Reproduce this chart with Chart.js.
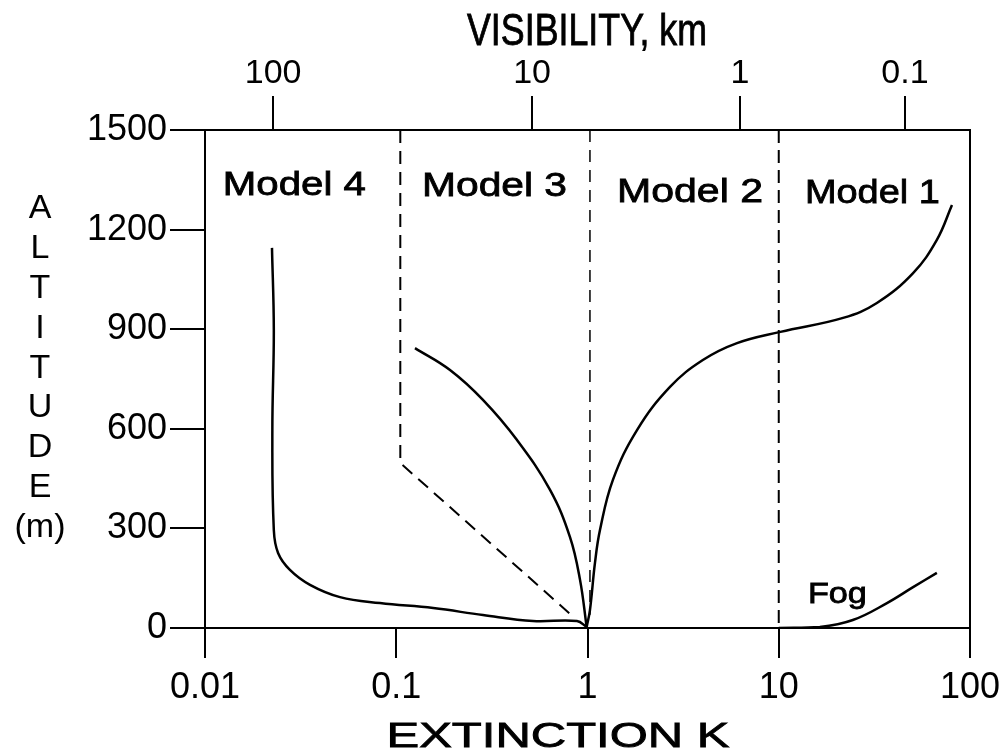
<!DOCTYPE html>
<html>
<head>
<meta charset="utf-8">
<title>Visibility models</title>
<script src="https://cdn.jsdelivr.net/npm/chart.js@4.4.1/dist/chart.umd.min.js"></script>
<style>
  body { margin: 0; background: #fff; }
  canvas { display: block; }
</style>
</head>
<body>
<canvas id="chart" width="1004" height="753"></canvas>
<script>
// axis ticks
const kTicks = [0.01, 0.1, 1, 10, 100];
const kTickLabels = ["0.01", "0.1", "1", "10", "100"];
const visTickK = [0.0227, 0.513, 6.27, 45.7];       // where the visibility marks sit on the K axis
const visTickLabels = ["100", "10", "1", "0.1"];
const altTicks = [0, 300, 600, 900, 1200, 1500];

// curves (K, altitude m)
const model4K   = [0.0224, 0.0229, 0.0225, 0.0229, 0.0241, 0.0278, 0.0354, 0.0508, 0.0822, 0.156, 0.284, 0.519, 0.881, 0.99];
const model4Alt = [1145, 898, 596, 295, 226, 175, 130, 93, 75, 60, 39, 21, 21, 3];

const model3K   = [0.1253, 0.191, 0.284, 0.428, 0.637, 0.810, 0.914, 0.99];
const model3Alt = [843, 777, 687, 566, 416, 274, 145, 3];

const model3LimK   = [0.105, 0.105, 0.82];
const model3LimAlt = [1500, 497, 40];

const model2K   = [0.99, 1.03, 1.094, 1.162, 1.358, 1.815, 2.70, 4.01, 6.05, 10.2, 21.7, 32.6, 50.4, 67.1, 80.5];
const model2Alt = [3, 54, 196, 295, 446, 596, 726, 807, 858, 892, 934, 979, 1069, 1169, 1274];

const fogK   = [10, 16.4, 24.4, 36.8, 50.4, 67.1];
const fogAlt = [0, 3, 24, 75, 123, 166];

const bound23K = [1.03, 1.03];
const bound23Alt = [1500, 40];
const bound12K = [10, 10];
const bound12Alt = [1500, 0];

// text labels inside the plot (K, altitude)
const modelNames = ["Model 4", "Model 3", "Model 2", "Model 1", "Fog"];
const modelNameK = [0.0124, 0.1364, 1.426, 13.7, 14.2];
const modelNameAlt = [1304, 1301, 1283, 1280, 75];

const altLetters = ["A", "L", "T", "I", "T", "U", "D", "E", "(m)"];

const FONT = '"Liberation Sans", Arial, Helvetica, sans-serif';

function pts(xs, ys) {
    return xs.map((x, i) => ({ x: x, y: ys[i] }));
}

function curve(xs, ys, extra) {
    return Object.assign({
        data: pts(xs, ys),
        showLine: true,
        borderColor: "#000",
        borderWidth: 2.5,
        pointRadius: 0,
        tension: 0.4,
        fill: false
    }, extra || {});
}

// draw text squeezed/stretched to a given width (the scan is not evenly scaled)
function fitText(ctx, str, x, y, size, width, align) {
    ctx.save();
    ctx.font = size + "px " + FONT;
    const w = ctx.measureText(str).width;
    ctx.translate(x, y);
    ctx.scale(width / w, 1);
    ctx.textAlign = align || "left";
    ctx.textBaseline = "alphabetic";
    ctx.fillStyle = "#000";
    ctx.strokeStyle = "#000";
    ctx.lineWidth = 0.8;
    ctx.fillText(str, 0, 0);
    ctx.strokeText(str, 0, 0);
    ctx.restore();
}

const labelWidths = [143, 145, 146, 135, 59];

const textPlugin = {
    id: "texts",
    beforeDraw(chart) {
        const ctx = chart.ctx;
        ctx.save();
        ctx.fillStyle = "#fff";
        ctx.fillRect(0, 0, chart.width, chart.height);
        ctx.restore();
    },
    afterDraw(chart) {
        const ctx = chart.ctx;
        const xs = chart.scales.x, ys = chart.scales.y;
        modelNames.forEach((name, i) => {
            const px = xs.getPixelForValue(modelNameK[i]);
            const py = ys.getPixelForValue(modelNameAlt[i]);
            fitText(ctx, name, px, py, i === 4 ? 29 : 33, labelWidths[i], "left");
        });
        // axis titles
        fitText(ctx, "VISIBILITY, km", 587, 45, 44, 240, "center");
        fitText(ctx, "EXTINCTION K", 558, 747, 35, 343, "center");
        ctx.save();
        ctx.font = "34px " + FONT;
        ctx.fillStyle = "#000";
        ctx.textAlign = "center";
        ctx.textBaseline = "middle";
        altLetters.forEach((l, i) => {
            ctx.fillText(l, 40, 209 + i * 39.8);
        });
        ctx.restore();
    }
};

const tickGrid = (len) => ({
    drawOnChartArea: false,
    color: "#000",
    lineWidth: 2,
    tickLength: len
});

new Chart(document.getElementById("chart"), {
    type: "scatter",
    data: {
        datasets: [
            curve(model4K, model4Alt),
            curve(model3K, model3Alt),
            curve(model2K, model2Alt),
            curve(fogK, fogAlt),
            curve(model3LimK, model3LimAlt, { tension: 0, borderWidth: 2, borderDash: [13, 8] }),
            curve(bound23K, bound23Alt, { tension: 0, borderWidth: 1.5, borderDash: [12, 8] }),
            curve(bound12K, bound12Alt, { tension: 0, borderWidth: 2, borderDash: [13, 7] })
        ]
    },
    options: {
        responsive: false,
        animation: false,
        devicePixelRatio: 1,
        layout: { padding: { left: 0, right: 34, top: 0, bottom: 0 } },
        plugins: {
            legend: { display: false },
            tooltip: { enabled: false }
        },
        scales: {
            x: {
                type: "logarithmic",
                position: "bottom",
                min: 0.01,
                max: 100,
                afterBuildTicks: s => { s.ticks = kTicks.map(v => ({ value: v })); },
                afterFit: s => { s.height = 125; s.paddingLeft = 0; s.paddingRight = 0; },
                ticks: {
                    autoSkip: false,
                    maxRotation: 0,
                    padding: 8,
                    color: "#000",
                    font: { family: FONT, size: 36 },
                    callback: (v, i) => kTickLabels[i]
                },
                grid: tickGrid(30),
                border: { color: "#000", width: 2 }
            },
            x2: {
                type: "logarithmic",
                position: "top",
                min: 0.01,
                max: 100,
                afterBuildTicks: s => { s.ticks = visTickK.map(v => ({ value: v })); },
                afterFit: s => { s.height = 130; s.paddingLeft = 0; s.paddingRight = 0; },
                ticks: {
                    autoSkip: false,
                    maxRotation: 0,
                    padding: 2,
                    color: "#000",
                    font: { family: FONT, size: 34 },
                    callback: (v, i) => visTickLabels[i]
                },
                grid: tickGrid(34),
                border: { color: "#000", width: 2 }
            },
            y: {
                type: "linear",
                position: "left",
                min: 0,
                max: 1500,
                afterBuildTicks: s => { s.ticks = altTicks.map(v => ({ value: v })); },
                afterFit: s => { s.width = 205; },
                ticks: {
                    padding: 3,
                    color: "#000",
                    font: { family: FONT, size: 36 },
                    callback: v => String(v)
                },
                grid: tickGrid(35),
                border: { color: "#000", width: 2 }
            },
            y2: {
                type: "linear",
                position: "right",
                min: 0,
                max: 1500,
                afterFit: s => { s.width = 0; },
                ticks: { display: false },
                grid: { display: false },
                border: { display: true, color: "#000", width: 2 }
            }
        }
    },
    plugins: [textPlugin]
});
</script>
</body>
</html>
